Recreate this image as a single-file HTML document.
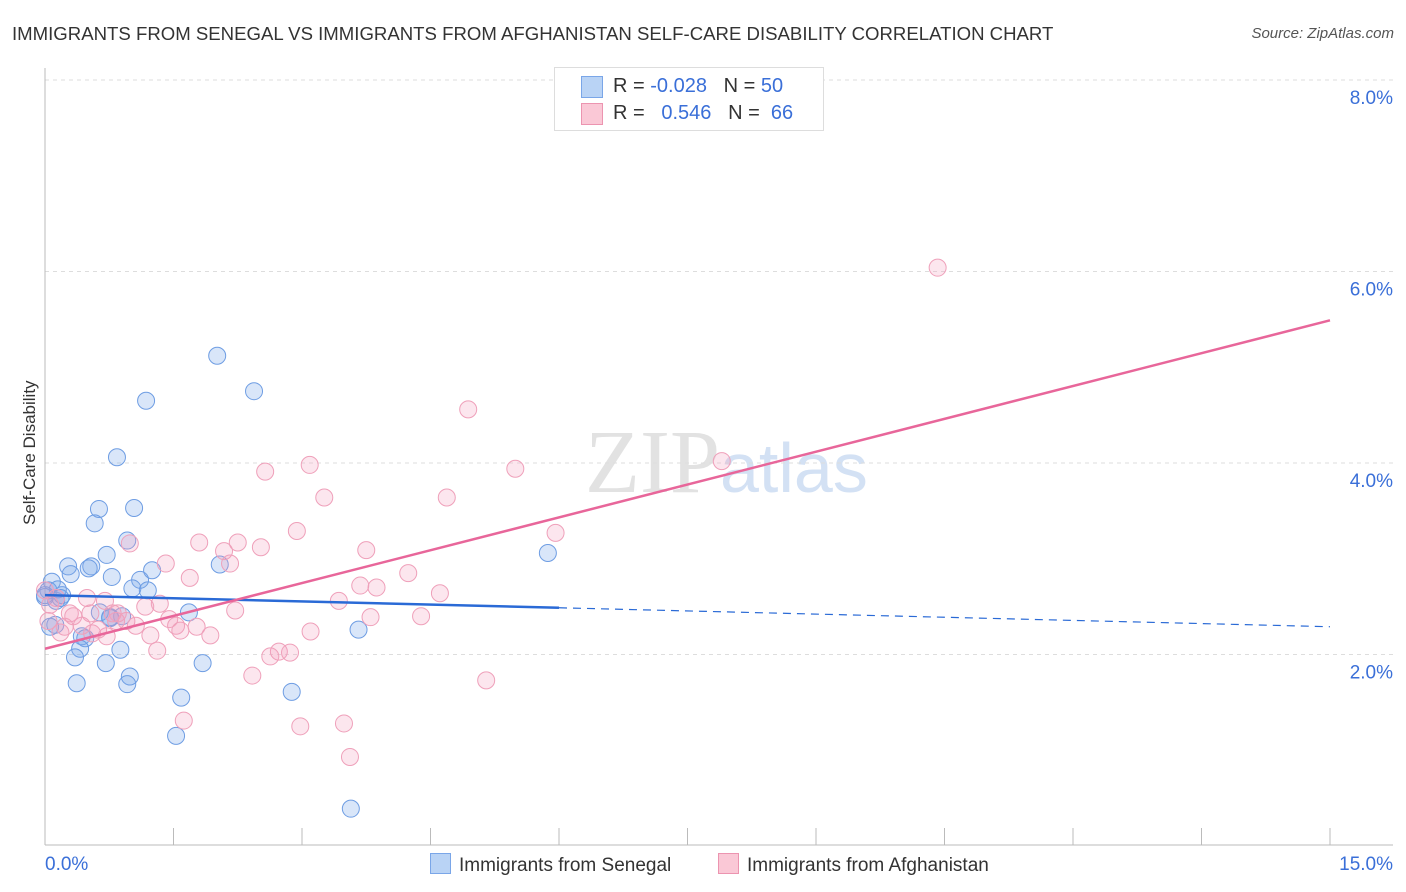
<!DOCTYPE html>
<html><head><meta charset="utf-8"><style>
body{margin:0;background:#fff;font-family:"Liberation Sans",sans-serif}
#wrap{position:relative;width:1406px;height:892px;overflow:hidden}
.t{position:absolute;white-space:nowrap}
</style></head><body>
<div id="wrap">
<div class="t" style="left:12px;top:23px;font-size:18.6px;color:#333">IMMIGRANTS FROM SENEGAL VS IMMIGRANTS FROM AFGHANISTAN SELF-CARE DISABILITY CORRELATION CHART</div>
<div class="t" style="right:12px;top:25px;font-size:15px;color:#555;font-style:italic">Source: ZipAtlas.com</div>
<svg id="plot" width="1406" height="892" style="position:absolute;left:0;top:0">
<text x="720" y="492" font-size="90" font-family="Liberation Serif" fill="#e2e2e2" text-anchor="end">ZIP</text>
<text x="720" y="492" font-size="70" font-family="Liberation Sans" fill="#d3e1f4">atlas</text>
</svg>
<div class="t" style="left:-40px;top:445px;font-size:17px;color:#333;transform:rotate(-90deg);transform-origin:center;width:140px;text-align:center">Self-Care Disability</div>
<div style="position:absolute;left:554px;top:67px;width:268px;height:62px;border:1px solid #ddd;background:#fff;font-size:20px">
 <div style="position:absolute;left:26px;top:8px;width:20px;height:20px;background:#b9d3f5;border:1px solid #7aa6e8"></div>
 <div class="t" style="left:58px;top:7px;color:#333">R = <span style="color:#3a6fd8">-0.028</span>&nbsp;&nbsp;&nbsp;N = <span style="color:#3a6fd8">50</span></div>
 <div style="position:absolute;left:26px;top:35px;width:20px;height:20px;background:#fac8d6;border:1px solid #ec94b0"></div>
 <div class="t" style="left:58px;top:34px;color:#333">R = &nbsp;&nbsp;<span style="color:#3a6fd8">0.546</span>&nbsp;&nbsp;&nbsp;N = &nbsp;<span style="color:#3a6fd8">66</span></div>
</div>
<div style="position:absolute;left:430px;top:853px;font-size:19px;color:#333">
 <span style="display:inline-block;width:19px;height:19px;background:#b9d3f5;border:1px solid #7aa6e8;vertical-align:-3px;margin-right:8px"></span>Immigrants from Senegal</div>
<div style="position:absolute;left:718px;top:853px;font-size:19px;color:#333">
 <span style="display:inline-block;width:19px;height:19px;background:#fac8d6;border:1px solid #ec94b0;vertical-align:-3px;margin-right:8px"></span>Immigrants from Afghanistan</div>
</div>
<script>
const yTicks=[2,4,6,8];
const xLabels=["0.0%","15.0%"];
const senegalX=[2.01,2.44,1.18,0.84,0.63,1.04,0.58,0.96,0.72,0.27,0.30,0.54,0.51,0.78,1.11,1.25,1.02,1.20,2.04,0.08,0.04,0.13,0.20,0.15,0.0,0.64,0.76,0.90,1.68,0.06,0.12,0.43,0.47,0.41,0.88,0.35,0.71,0.37,0.99,0.96,1.84,1.59,2.88,1.53,3.57,3.66,5.87,0.0,0.18,0.76];
const senegalY=[5.12,4.75,4.65,4.06,3.52,3.53,3.37,3.19,3.04,2.92,2.84,2.92,2.90,2.81,2.78,2.88,2.69,2.67,2.94,2.76,2.67,2.56,2.62,2.68,2.60,2.44,2.38,2.40,2.44,2.29,2.31,2.19,2.17,2.06,2.05,1.97,1.91,1.70,1.77,1.69,1.91,1.55,1.61,1.15,0.39,2.26,3.06,2.62,2.59,2.39];
const afgX=[10.42,4.94,7.90,5.49,2.57,3.09,4.69,3.26,5.96,2.94,0.99,1.80,2.25,2.52,2.09,3.75,1.41,2.16,4.24,1.69,3.87,3.68,4.61,3.43,0.70,1.34,1.17,0.49,0.13,0.29,0.53,0.85,0.83,0.95,1.45,1.53,1.06,1.58,2.22,3.80,4.39,3.10,0.18,0.55,0.72,1.23,1.93,1.31,2.73,2.63,2.86,2.42,5.15,1.62,2.98,3.49,3.56,0.0,0.04,0.23,0.62,0.43,0.06,0.79,0.33,1.77];
const afgY=[6.04,4.56,4.02,3.94,3.91,3.98,3.64,3.64,3.27,3.29,3.16,3.17,3.17,3.12,3.08,3.09,2.95,2.95,2.85,2.80,2.70,2.72,2.64,2.56,2.56,2.53,2.50,2.59,2.59,2.43,2.43,2.43,2.35,2.35,2.37,2.30,2.30,2.25,2.46,2.39,2.40,2.24,2.23,2.22,2.19,2.20,2.20,2.04,2.03,1.98,2.02,1.78,1.73,1.31,1.25,1.28,0.93,2.67,2.35,2.29,2.26,2.30,2.52,2.43,2.40,2.29];
const blueLine=[2.62,2.29];
const pinkLine=[2.06,5.49];
const ns="http://www.w3.org/2000/svg";
const svg=document.getElementById('plot');
const X0=45,X1=1330,Y0=846,PPY=95.75;
const sx=v=>X0+(X1-X0)*v/15, sy=v=>Y0-v*PPY;
function mk(tag,attrs){const e=document.createElementNS(ns,tag);for(const k in attrs)e.setAttribute(k,attrs[k]);svg.appendChild(e);return e;}
yTicks.forEach(t=>{
 const g=mk('line',{x1:X0,x2:1393,y1:sy(t),y2:sy(t),stroke:'#ddd','stroke-dasharray':'4,4'});
 
 
 const l=mk('text',{x:1393,y:sy(t)+24,'font-size':19,fill:'#3a6fd8','text-anchor':'end'});
 l.textContent=t.toFixed(1)+'%';
 
 
});
const ax=mk('line',{x1:X0,x2:1393,y1:845,y2:845,stroke:'#bbb'});


const ay=mk('line',{x1:X0,x2:X0,y1:68,y2:845,stroke:'#bbb'});


for(let i=0;i<=10;i++){const v=i*1.5;const tk=mk('line',{x1:sx(v),x2:sx(v),y1:828,y2:845,stroke:'#bbb'});
 
 }
[[0,xLabels[0],'start',45],[15,xLabels[1],'end',1393]].forEach(a=>{const t=mk('text',{x:a[3],y:870,'font-size':19,fill:'#3a6fd8','text-anchor':a[2]});t.textContent=a[1];
 
 });
senegalX.forEach((v,i)=>{const c=mk('circle',{cx:sx(v),cy:sy(senegalY[i]),r:8.5,fill:'rgba(120,165,235,0.28)',stroke:'#6e9de3','stroke-width':1});
 
 });
afgX.forEach((v,i)=>{const c=mk('circle',{cx:sx(v),cy:sy(afgY[i]),r:8.5,fill:'rgba(245,160,190,0.26)',stroke:'#efa0ba','stroke-width':1});
 
 });
const bm=blueLine[0]+(blueLine[1]-blueLine[0])*6/15;
const b1=mk('line',{x1:sx(0),y1:sy(blueLine[0]),x2:sx(6),y2:sy(bm),stroke:'#2a6ad6','stroke-width':2.5});


const b2=mk('line',{x1:sx(6),y1:sy(bm),x2:sx(15),y2:sy(blueLine[1]),stroke:'#2a6ad6','stroke-width':1.2,'stroke-dasharray':'8,6'});


const p1=mk('line',{x1:sx(0),y1:sy(pinkLine[0]),x2:sx(15),y2:sy(pinkLine[1]),stroke:'#e8669a','stroke-width':2.5});


</script>
</body></html>
